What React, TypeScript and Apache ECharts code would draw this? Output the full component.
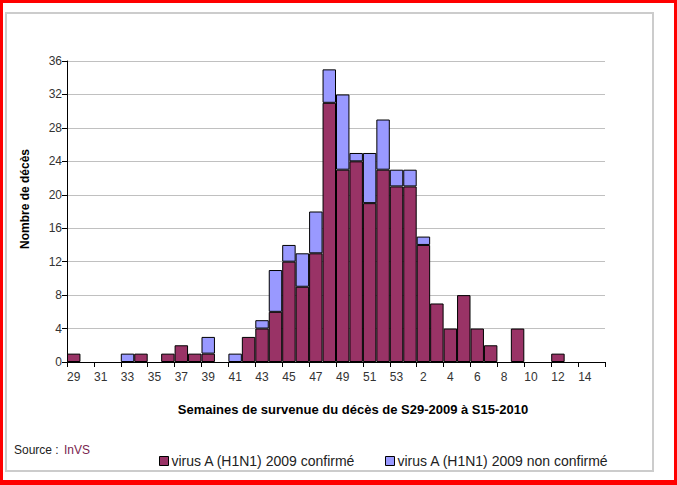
import React, { useEffect, useRef } from "react";
import * as echarts from "echarts";

const weeks: string[] = [
  "29","30","31","32","33","34","35","36","37","38","39","40","41","42","43","44","45","46","47","48","49","50","51","52","53",
  "1","2","3","4","5","6","7","8","9","10","11","12","13","14","15",
];
const confirmed: number[] = [
  1,0,0,0,0,1,0,1,2,1,1,0,0,3,4,6,12,9,13,31,23,24,19,23,21,
  21,14,7,4,8,4,2,0,4,0,0,1,0,0,0,
];
const nonConfirmed: number[] = [
  0,0,0,0,1,0,0,0,0,0,2,0,1,0,1,5,2,4,5,4,9,1,6,6,2,
  2,1,0,0,0,0,0,0,0,0,0,0,0,0,0,
];
const seriesNames: string[] = [
  "virus A (H1N1) 2009 confirmé",
  "virus A (H1N1) 2009 non confirmé",
];
const yTicks = { min: 0, max: 36, interval: 4 };

const FONT = "'Liberation Sans', Arial, sans-serif";

export default function App() {
  const ref = useRef<HTMLDivElement>(null);
  useEffect(() => {
    if (!ref.current) return;
    const chart = echarts.init(ref.current, undefined, { renderer: "svg" });
    const nz = (arr: number[]) => arr.map((v) => (v === 0 ? null : v));
    chart.setOption({
      animation: false,
      backgroundColor: "#ffffff",
      textStyle: { fontFamily: FONT },
      grid: { left: 67, right: 72, top: 61, bottom: 123, containLabel: false },
      legend: [
        {
          data: [seriesNames[0]],
          left: 154,
          top: 449,
          icon: "rect",
          itemWidth: 9,
          itemHeight: 9,
          textStyle: { fontSize: 14, color: "#222", fontFamily: FONT, padding: [0, 0, 0, -2] },
          itemStyle: { borderColor: "#000", borderWidth: 1 },
        },
        {
          data: [seriesNames[1]],
          left: 380,
          top: 449,
          icon: "rect",
          itemWidth: 9,
          itemHeight: 9,
          textStyle: { fontSize: 14, color: "#222", fontFamily: FONT, padding: [0, 0, 0, -2] },
          itemStyle: { borderColor: "#000", borderWidth: 1 },
        },
      ],
      xAxis: {
        type: "category",
        data: weeks,
        axisLine: { lineStyle: { color: "#000", width: 1 } },
        axisTick: { show: true, interval: 1, length: 5, lineStyle: { color: "#000" } },
        axisLabel: { interval: 1, fontSize: 12, color: "#333", margin: 9, fontFamily: FONT },
        splitLine: { show: false },
      },
      yAxis: {
        type: "value",
        min: yTicks.min,
        max: yTicks.max,
        interval: yTicks.interval,
        axisLine: { show: true, lineStyle: { color: "#000", width: 1 } },
        axisTick: { show: true, length: 5, lineStyle: { color: "#000" } },
        axisLabel: { fontSize: 12, color: "#333", margin: 5, fontFamily: FONT },
        splitLine: { show: true, lineStyle: { color: "#c0c0c0", width: 1 } },
      },
      series: [
        {
          name: seriesNames[0],
          type: "bar",
          stack: "deces",
          data: nz(confirmed),
          barCategoryGap: "0%",
          itemStyle: { color: "#993366", borderColor: "#000", borderWidth: 1 },
        },
        {
          name: seriesNames[1],
          type: "bar",
          stack: "deces",
          data: nz(nonConfirmed),
          barCategoryGap: "0%",
          itemStyle: { color: "#9999ff", borderColor: "#000", borderWidth: 1 },
        },
      ],
      graphic: [
        {
          type: "rect",
          silent: true,
          shape: { x: 1.5, y: 1.5, width: 674, height: 480 },
          style: { fill: "none", stroke: "#ff0000", lineWidth: 3 },
          z: 100,
        },
        {
          type: "rect",
          silent: true,
          shape: { x: 0, y: 480, width: 677, height: 5 },
          style: { fill: "#ff0000" },
          z: 100,
        },
        {
          type: "rect",
          silent: true,
          shape: { x: 6, y: 13, width: 647, height: 458 },
          style: { fill: "none", stroke: "#cccccc", lineWidth: 2 },
          z: 100,
        },
        {
          type: "text",
          silent: true,
          x: 353,
          y: 409,
          style: {
            text: "Semaines de survenue du décès de S29-2009 à S15-2010",
            fontSize: 13,
            fontWeight: "bold",
            fill: "#000",
            fontFamily: FONT,
            textAlign: "center",
            textVerticalAlign: "middle",
          },
        },
        {
          type: "text",
          silent: true,
          x: 25,
          y: 199,
          rotation: Math.PI / 2,
          style: {
            text: "Nombre de décès",
            fontSize: 12,
            fontWeight: "bold",
            fill: "#000",
            fontFamily: FONT,
            textAlign: "center",
            textVerticalAlign: "middle",
          },
        },
        {
          type: "text",
          silent: true,
          left: 14,
          top: 444,
          style: { text: "Source : ", fontSize: 12, fill: "#222", fontFamily: FONT },
        },
        {
          type: "text",
          silent: true,
          left: 64,
          top: 444,
          style: { text: "InVS", fontSize: 12, fill: "#7a1f4f", fontFamily: FONT },
        },
      ],
    });
    return () => chart.dispose();
  }, []);
  return (
    <div
      ref={ref}
      style={{ position: "fixed", left: 0, top: 0, width: 677, height: 485, background: "#fff" }}
    />
  );
}
